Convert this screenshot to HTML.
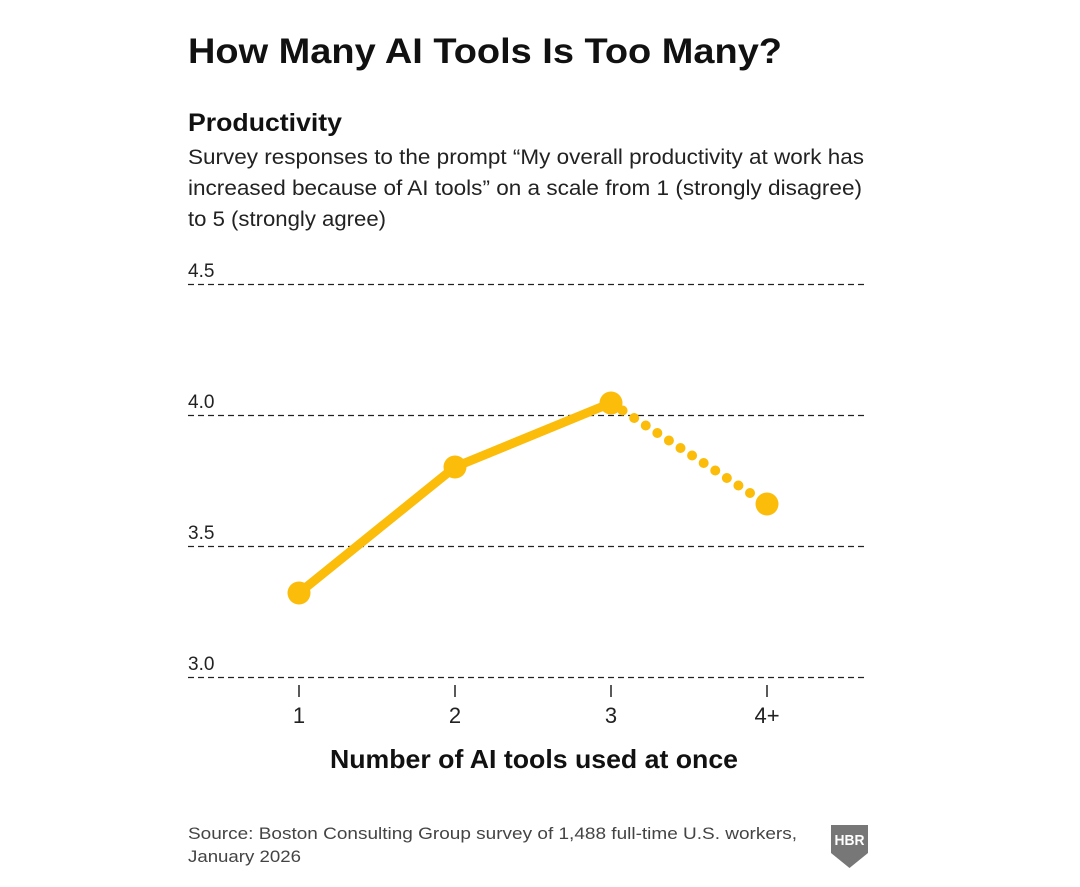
<!DOCTYPE html>
<html><head><meta charset="utf-8"><style>
body{margin:0;background:#fff;width:1080px;height:887px;overflow:hidden;font-family:"Liberation Sans",sans-serif;}
svg{position:absolute;left:0;top:0}
</style></head><body>
<svg width="1080" height="887" viewBox="0 0 1080 887">
<text x="188" y="63" font-size="35" font-weight="bold" fill="#111" font-family="Liberation Sans" textLength="594" lengthAdjust="spacingAndGlyphs">How Many AI Tools Is Too Many?</text>
<text x="188" y="131" font-size="25" font-weight="bold" fill="#111" font-family="Liberation Sans" textLength="154" lengthAdjust="spacingAndGlyphs">Productivity</text>
<g font-size="21" fill="#222" font-family="Liberation Sans">
<text x="188" y="164" textLength="676" lengthAdjust="spacingAndGlyphs">Survey responses to the prompt “My overall productivity at work has</text>
<text x="188" y="195" textLength="674" lengthAdjust="spacingAndGlyphs">increased because of AI tools” on a scale from 1 (strongly disagree)</text>
<text x="188" y="226" textLength="198" lengthAdjust="spacingAndGlyphs">to 5 (strongly agree)</text>
</g>
<g stroke="#222" stroke-width="1.3" stroke-dasharray="6,4">
<line x1="188" y1="284.5" x2="864" y2="284.5"/>
<line x1="188" y1="415.5" x2="864" y2="415.5"/>
<line x1="188" y1="546.5" x2="864" y2="546.5"/>
<line x1="188" y1="677.5" x2="864" y2="677.5"/>
</g>
<g font-size="19" fill="#222" font-family="Liberation Sans">
<text x="188" y="277">4.5</text>
<text x="188" y="408">4.0</text>
<text x="188" y="539">3.5</text>
<text x="188" y="670">3.0</text>
</g>
<g stroke="#222" stroke-width="1.5">
<line x1="299" y1="685" x2="299" y2="697"/>
<line x1="455" y1="685" x2="455" y2="697"/>
<line x1="611" y1="685" x2="611" y2="697"/>
<line x1="767" y1="685" x2="767" y2="697"/>
</g>
<g font-size="22" fill="#222" font-family="Liberation Sans" text-anchor="middle">
<text x="299" y="723">1</text><text x="455" y="723">2</text><text x="611" y="723">3</text><text x="767" y="723">4+</text>
</g>
<text x="330" y="768" font-size="26" font-weight="bold" fill="#111" font-family="Liberation Sans" textLength="408" lengthAdjust="spacingAndGlyphs">Number of AI tools used at once</text>
<polyline points="299,593 455,467 611,403" fill="none" stroke="#fbbc0a" stroke-width="9" stroke-linejoin="round"/>
<line x1="611" y1="403" x2="767" y2="504" stroke="#fbbc0a" stroke-width="10" stroke-linecap="round" stroke-dasharray="0,13.8"/>
<g fill="#fbbc0a"><circle cx="299" cy="593" r="11.5"/><circle cx="455" cy="467" r="11.5"/><circle cx="611" cy="403" r="11.5"/><circle cx="767" cy="504" r="11.5"/></g>
<g font-size="17" fill="#444" font-family="Liberation Sans">
<text x="188" y="839" textLength="609" lengthAdjust="spacingAndGlyphs">Source: Boston Consulting Group survey of 1,488 full-time U.S. workers,</text>
<text x="188" y="862" textLength="113" lengthAdjust="spacingAndGlyphs">January 2026</text>
</g>
<path d="M831,825 H868 V853 L849.5,868 L831,853 Z" fill="#777"/>
<text x="849.5" y="845" font-size="15" font-weight="bold" fill="#fff" text-anchor="middle" font-family="Liberation Sans" textLength="30" lengthAdjust="spacingAndGlyphs">HBR</text>
</svg>
</body></html>
